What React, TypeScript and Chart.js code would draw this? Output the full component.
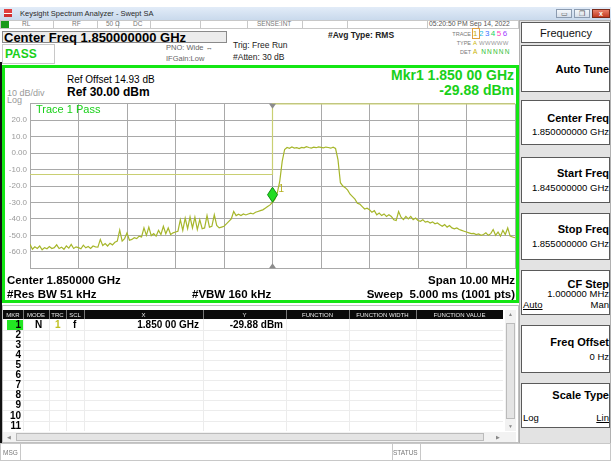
import React, { useEffect, useRef } from "react";
import { Chart, registerables } from "chart.js";

Chart.register(...registerables);

// ---- data ----
const START_MHZ = 1845;
const STOP_MHZ = 1855;
const STEP_MHZ = 0.05;
const traceLevels = [
  -55.5, -58.5, -57, -58, -56.5, -58.8, -57.5, -58.2, -56.8, -58,
  -57.5, -55.8, -58, -57.2, -58.5, -56.5, -57.8, -55.5, -58, -57,
  -57.5, -58.2, -56, -57.6, -56.8, -58, -56.5, -57, -57.2, -52.5,
  -56.2, -55, -56.5, -54.8, -55.8, -54.2, -53.5, -46.8, -53.5, -52,
  -48.5, -53, -52.5, -51.5, -52, -50.5, -51, -45.5, -50, -45,
  -50.2, -49, -50.5, -47, -49.5, -44.5, -49, -45.5, -49.5, -48.5,
  -48, -47.5, -40.5, -47, -39.5, -46, -38.8, -45.5, -39, -46.5,
  -40.5, -46, -45.5, -38, -45, -44.5, -37.5, -44, -45.5, -45,
  -44.5, -43, -41.5, -40, -35.5, -38, -37.2, -38, -37, -37.6,
  -37, -36.5, -37, -36, -35.5, -35, -34.5, -33.5, -32.5, -31.5,
  -29.88,
  -28, -24, -17, -5, 2.2, 3.4, 2.9, 3.7, 3.1,
  3.3, 2.8, 3.5, 3.2, 3.9, 3.4, 3.1, 3.6, 3.3, 3.8,
  3.5, 3.2, 3.7, 3.4, 3.0, 3.6, 2.8, -4, -18, -20,
  -21, -22.5, -25, -26.5, -28, -30.5, -31, -32.5, -34, -33.5,
  -34.5, -36, -35, -37.5, -36.5, -38, -37, -38.5, -37.5, -38.5,
  -40.5, -41, -35.5, -39, -40.5, -38.5, -40, -38.5, -40.5, -39.5,
  -41, -41.5, -40.5, -42, -41.5, -42.5, -41.8, -43, -42.5, -43.5,
  -44.5, -43.5, -45, -44, -45.5, -46, -45.5, -46.5, -47, -47.5,
  -48, -48.5, -49, -48.8, -49.5, -49.2, -50, -49.5, -48.5, -50,
  -49, -46.5, -50, -48, -50.5, -47, -49.5, -45.5, -50.5, -51, -51.5,
];
const limitFreqs = [1845, 1850, 1850, 1855];
const limitLevels = [-13, -13, 30, 30];
const markerFreq = 1850;
const markerLevel = -29.88;
const refLevel = 30;
const bottomLevel = -70;
const dbPerDiv = 10;

const FONT = '"Liberation Sans", Arial, sans-serif';

type TP = {
  x?: number; r?: number; y: number; s: number; b?: boolean; c?: string;
  children: React.ReactNode; u?: boolean; cx?: number; w?: number;
};
function T({ x, r, y, s, b, c, children, u, cx, w }: TP) {
  const st: React.CSSProperties = {
    position: "absolute",
    top: y - s * 0.49,
    fontSize: s,
    lineHeight: `${s}px`,
    height: s,
    fontWeight: b ? "bold" : "normal",
    color: c || "#000",
    whiteSpace: "nowrap",
    textDecoration: u ? "underline" : "none",
  };
  if (cx !== undefined && w !== undefined) {
    st.left = cx - w / 2;
    st.width = w;
    st.textAlign = "center";
  } else if (r !== undefined) {
    st.right = 611 - r;
    st.textAlign = "right";
  } else st.left = x;
  return <div style={st}>{children}</div>;
}

function Box({ x, y, w, h, bg, bd, z }: { x: number; y: number; w: number; h: number; bg?: string; bd?: string; z?: number }) {
  return (
    <div
      style={{
        position: "absolute", left: x, top: y, width: w, height: h,
        background: bg || "transparent",
        border: bd || "none", boxSizing: "border-box", zIndex: z,
      }}
    />
  );
}

const markerPlugin = {
  id: "mkr",
  afterDatasetsDraw(chart: any) {
    const { ctx, chartArea } = chart;
    const xs = chart.scales.x, ys = chart.scales.y;
    const px = xs.getPixelForValue(markerFreq);
    const py = ys.getPixelForValue(markerLevel);
    ctx.save();
    ctx.fillStyle = "#8c8c8c";
    ctx.beginPath();
    ctx.moveTo(px - 3.5, chartArea.top);
    ctx.lineTo(px + 3.5, chartArea.top);
    ctx.lineTo(px, chartArea.top + 5);
    ctx.closePath();
    ctx.fill();
    ctx.beginPath();
    ctx.moveTo(px - 3.5, chartArea.bottom);
    ctx.lineTo(px + 3.5, chartArea.bottom);
    ctx.lineTo(px, chartArea.bottom - 5);
    ctx.closePath();
    ctx.fill();
    const h = 15, w = 10;
    ctx.beginPath();
    ctx.moveTo(px, py);
    ctx.lineTo(px + w / 2, py - h / 2);
    ctx.lineTo(px, py - h);
    ctx.lineTo(px - w / 2, py - h / 2);
    ctx.closePath();
    ctx.fillStyle = "#22dd22";
    ctx.fill();
    ctx.strokeStyle = "#128a12";
    ctx.lineWidth = 1;
    ctx.stroke();
    ctx.fillStyle = "#b4b01c";
    ctx.font = `10px ${FONT}`;
    ctx.textBaseline = "alphabetic";
    ctx.fillText("1", px + 6, py - 10);
    ctx.restore();
  },
};

function SpectrumChart() {
  const ref = useRef<HTMLCanvasElement | null>(null);
  useEffect(() => {
    if (!ref.current) return;
    const trace = traceLevels.map((v, i) => ({ x: START_MHZ + i * STEP_MHZ, y: v }));
    const limit = limitFreqs.map((f, i) => ({ x: f, y: limitLevels[i] }));
    const chart = new Chart(ref.current, {
      type: "line",
      data: {
        datasets: [
          {
            label: "Limit",
            data: limit,
            borderColor: "#c9cf72",
            borderWidth: 1.2,
            pointRadius: 0,
            fill: false,
            tension: 0,
            clip: 3,
          } as any,
          {
            label: "Trace 1",
            data: trace,
            borderColor: "#a6b62a",
            borderWidth: 1.2,
            pointRadius: 0,
            fill: false,
            tension: 0,
          },
        ],
      },
      options: {
        responsive: false,
        animation: false,
        devicePixelRatio: 1,
        layout: { padding: { top: 3, right: 3, bottom: 4, left: 0 } },
        plugins: { legend: { display: false }, tooltip: { enabled: false } },
        scales: {
          x: {
            type: "linear",
            min: START_MHZ,
            max: STOP_MHZ,
            afterFit: (s: any) => { s.height = 0; },
            ticks: { stepSize: 1, display: false },
            grid: { color: "#a9a9a9", lineWidth: 1, drawTicks: false },
            border: { color: "#a9a9a9" },
          },
          y: {
            type: "linear",
            min: bottomLevel,
            max: refLevel,
            afterFit: (s: any) => { s.width = 24; },
            ticks: {
              stepSize: dbPerDiv,
              padding: 3,
              color: "#9a9a9a",
              font: { family: FONT, size: 8 },
              callback: (v: any) =>
                v === refLevel || v === bottomLevel ? "" : v === 0 ? "0.00" : Number(v).toFixed(1),
            },
            grid: { color: "#a9a9a9", lineWidth: 1, drawTicks: false },
            border: { color: "#a9a9a9" },
          },
        },
      },
      plugins: [markerPlugin],
    });
    return () => chart.destroy();
  }, []);
  return (
    <canvas
      ref={ref}
      width={512}
      height={180}
      style={{ position: "absolute", left: 6, top: 96, width: 512, height: 180 }}
    />
  );
}

function RightButton({ y, h }: { y: number; h: number }) {
  return <Box x={521} y={y} w={89} h={h} bg="#fff" bd="1px solid #5a5a5a" />;
}

export default function App() {
  const tableCols = [3, 23, 49, 66, 84, 203, 286, 349, 416, 503];
  const headers = ["MKR", "MODE", "TRC", "SCL", "X", "Y", "FUNCTION", "FUNCTION WIDTH", "FUNCTION VALUE"];
  const rowsY = [325, 335, 345, 355, 365, 375, 385, 395, 405, 416, 426];
  return (
    <div
      style={{
        position: "fixed", left: 0, top: 0, width: 611, height: 461,
        overflow: "hidden", background: "#fff", fontFamily: FONT,
      }}
    >
      {/* title bar */}
      <div
        style={{
          position: "absolute", left: 0, top: 7, width: 611, height: 13,
          background: "linear-gradient(#e2ecf8, #c9d9ec)",
          borderBottom: "1px solid #9fb3cc",
        }}
      />
      <Box x={4} y={9} w={8} h={8} bg="linear-gradient(#e04040 0 45%, #fff 45% 60%, #d03030 60%)" />
      <T x={20} y={14} s={7.5} c="#2a2a2a">Keysight Spectrum Analyzer - Swept SA</T>
      <Box x={556} y={9} w={16} h={9} bg="linear-gradient(#f4f7fb,#d6dfea)" bd="1px solid #8b9bb0" />
      <Box x={574} y={9} w={16} h={9} bg="linear-gradient(#f4f7fb,#d6dfea)" bd="1px solid #8b9bb0" />
      <Box x={592} y={9} w={18} h={9} bg="linear-gradient(#e8806a,#c23b22)" bd="1px solid #7a2a1a" />
      <T cx={564} w={16} y={13.5} s={7} c="#555">▭</T>
      <T cx={582} w={16} y={13.5} s={7} c="#555">❐</T>
      <T cx={601} w={18} y={13.5} s={7} b c="#fff">x</T>

      {/* status row */}
      <Box x={0} y={20} w={611} h={9} bg="#fff" bd="1px solid #c8c8c8" />
      {[53, 97, 118, 150, 200, 247, 302, 347, 427, 518].map((sx) => (
        <Box key={sx} x={sx} y={20} w={1} h={9} bg="#c8c8c8" />
      ))}
      <Box x={1} y={21} w={8} h={7} bg="#1a9a1a" />
      <T x={22} y={24.5} s={6.5} c="#777">RL</T>
      <T x={72} y={24.5} s={6.5} c="#777">RF</T>
      <T x={106} y={24.5} s={6.5} c="#777">50 Ω</T>
      <T x={133} y={24.5} s={6.5} c="#777">DC</T>
      <T x={257} y={24.5} s={6.5} c="#777">SENSE:INT</T>
      <T x={429} y={24.5} s={6.8} c="#555">05:20:50 PM Sep 14, 2022</T>

      {/* center freq / pass header */}
      <Box x={2} y={31} w={225} h={12} bg="#ececec" bd="1px solid #8a8a8a" />
      <T x={4} y={37} s={13} b>Center Freq 1.850000000 GHz</T>
      <Box x={2} y={44} w={53} h={20} bg="#fff" bd="1px solid #c8c8c8" />
      <T x={5} y={53.5} s={12} b c="#19d019">PASS</T>
      <T x={166} y={48} s={7.5} c="#666">PNO: Wide ↔</T>
      <T x={166} y={58.5} s={7.5} c="#666">IFGain:Low</T>
      <T x={233} y={45.5} s={8.5} c="#222">Trig: Free Run</T>
      <T x={233} y={57} s={8.5} c="#222">#Atten: 30 dB</T>
      <T x={328} y={35.5} s={8.5} b c="#222">#Avg Type: RMS</T>
      <T r={471} y={34.5} s={5.5} c="#777">TRACE</T>
      <T r={471} y={43.5} s={5.5} c="#777">TYPE</T>
      <T r={471} y={52.5} s={5.5} c="#777">DET</T>
      <div style={{ position: "absolute", left: 473, top: 30, fontSize: 8, lineHeight: "8px", whiteSpace: "nowrap", letterSpacing: 1.5 }}>
        <span style={{ color: "#c8b400", outline: "1px solid #e0a040" }}>1</span>
        <span style={{ color: "#20b8e0" }}>2</span>
        <span style={{ color: "#4070ff" }}>3</span>
        <span style={{ color: "#20d060" }}>4</span>
        <span style={{ color: "#ff40c0" }}>5</span>
        <span style={{ color: "#a040ff" }}>6</span>
      </div>
      <div style={{ position: "absolute", left: 473, top: 40, fontSize: 6, lineHeight: "6px", whiteSpace: "nowrap", letterSpacing: 0.3 }}>
        <span style={{ color: "#c8b400" }}>A </span>
        <span style={{ color: "#999" }}>WWWWW</span>
      </div>
      <div style={{ position: "absolute", left: 473, top: 49, fontSize: 6.5, lineHeight: "6.5px", whiteSpace: "nowrap", letterSpacing: 1.2 }}>
        <span style={{ color: "#c8b400" }}>A </span>
        <span style={{ color: "#30c030" }}>NNNNN</span>
      </div>

      {/* right panel */}
      <Box x={519} y={20} w={92} h={424} bg="#e3e3e3" bd="1px solid #b0b0b0" />
      <RightButton y={22} h={21} />
      <T cx={566} w={89} y={33} s={11} c="#111">Frequency</T>
      <RightButton y={45} h={47} />
      <T r={609} y={69} s={11} b>Auto Tune</T>
      <RightButton y={100} h={45} />
      <T r={609} y={118} s={11} b>Center Freq</T>
      <T r={609} y={132} s={9.5}>1.850000000 GHz</T>
      <RightButton y={157} h={46} />
      <T r={609} y={173} s={11} b>Start Freq</T>
      <T r={609} y={188} s={9.5}>1.845000000 GHz</T>
      <RightButton y={213} h={47} />
      <T r={609} y={229} s={11} b>Stop Freq</T>
      <T r={609} y={244} s={9.5}>1.855000000 GHz</T>
      <RightButton y={270} h={45} />
      <T r={609} y={284} s={11} b>CF Step</T>
      <T r={609} y={294} s={9.5}>1.000000 MHz</T>
      <T x={523} y={305} s={9.5} u>Auto</T>
      <T r={609} y={305} s={9.5}>Man</T>
      <RightButton y={325} h={48} />
      <T r={609} y={342} s={11} b>Freq Offset</T>
      <T r={609} y={357} s={9.5}>0 Hz</T>
      <RightButton y={383} h={45} />
      <T r={609} y={395} s={11} b>Scale Type</T>
      <T x={523} y={418} s={9.5}>Log</T>
      <T r={609} y={418} s={9.5} u>Lin</T>

      {/* left dark frame */}
      <Box x={0} y={62} w={2} h={381} bg="#111" />

      {/* green measurement frame */}
      <Box x={2} y={65} w={517} h={238} bg="#fff" bd="3px solid #14e614" />
      <T x={67} y={80} s={10}>Ref Offset 14.93 dB</T>
      <T x={67} y={91.5} s={12} b>Ref 30.00 dBm</T>
      <T x={7} y={93.5} s={9} c="#9a9a9a">10 dB/div</T>
      <T x={7} y={100.5} s={9} c="#9a9a9a">Log</T>
      <T r={514} y={75} s={14} b c="#19d019">Mkr1 1.850 00 GHz</T>
      <T r={514} y={90} s={14} b c="#19d019">-29.88 dBm</T>
      <SpectrumChart />
      <T x={36} y={109} s={11} c="#19d019">Trace 1 Pass</T>
      <T x={7} y={280.5} s={11.5} b>Center 1.850000 GHz</T>
      <T x={7} y={294.5} s={11.5} b>#Res BW 51 kHz</T>
      <T x={192} y={294.5} s={11.5} b>#VBW 160 kHz</T>
      <T r={515} y={280.5} s={11.5} b>Span 10.00 MHz</T>
      <T r={515} y={294.5} s={11.5} b>Sweep&nbsp;&nbsp;5.000 ms (1001 pts)</T>

      {/* marker table */}
      <Box x={2} y={305} w={517} h={138} bg="#fff" bd="1px solid #c0c0c0" />
      <Box x={3} y={310} w={500} h={9} bg="#0a0a0a" />
      {headers.map((hd, i) => (
        <T key={hd} cx={(tableCols[i] + tableCols[i + 1]) / 2} w={tableCols[i + 1] - tableCols[i]} y={314.5} s={6} c="#e8e8e8">
          {hd}
        </T>
      ))}
      {tableCols.slice(1, -1).map((cx) => (
        <Box key={cx} x={cx} y={310} w={1} h={9} bg="#777" />
      ))}
      {tableCols.slice(1, -1).map((cx) => (
        <Box key={"v" + cx} x={cx} y={319} w={1} h={112} bg="#ececec" />
      ))}
      {rowsY.slice(0, -1).map((ry) => (
        <Box key={"h" + ry} x={3} y={ry + 5} w={500} h={1} bg="#ececec" />
      ))}
      <Box x={7} y={320} w={16} h={10} bg="#22e622" />
      {rowsY.map((ry, i) => (
        <T key={"r" + i} r={21} y={ry} s={10} b>{String(i + 1)}</T>
      ))}
      <T x={35} y={325} s={10} b>N</T>
      <T x={55} y={325} s={10} b c="#c0c020">1</T>
      <T x={73} y={325} s={10} b>f</T>
      <T r={199} y={325} s={10} b>1.850 00 GHz</T>
      <T r={283} y={325} s={10} b>-29.88 dBm</T>
      {/* scroll bars */}
      <Box x={505} y={310} w={11} h={121} bg="#f2f2f2" />
      <Box x={506} y={323} w={9} h={96} bg="#e4e4e4" bd="1px solid #bbb" />
      <T cx={510.5} w={11} y={314} s={5} c="#888">▲</T>
      <T cx={510.5} w={11} y={426} s={5} c="#888">▼</T>
      <Box x={3} y={432} w={513} h={10} bg="#f2f2f2" />
      <Box x={16} y={433} w={468} h={8} bg="#e4e4e4" bd="1px solid #bbb" />
      <T x={7} y={437} s={5} c="#888">◀</T>
      <T x={496} y={437} s={5} c="#888">▶</T>

      {/* msg bar */}
      <Box x={0} y={443} w={611} h={18} bg="#fff" bd="1px solid #c8c8c8" />
      <Box x={20} y={443} w={1} h={18} bg="#c8c8c8" />
      <Box x={392} y={443} w={1} h={18} bg="#c8c8c8" />
      <Box x={420} y={443} w={1} h={18} bg="#c8c8c8" />
      <T x={3} y={453} s={6.5} c="#777">MSG</T>
      <T x={393} y={453} s={6.5} c="#777">STATUS</T>
    </div>
  );
}
